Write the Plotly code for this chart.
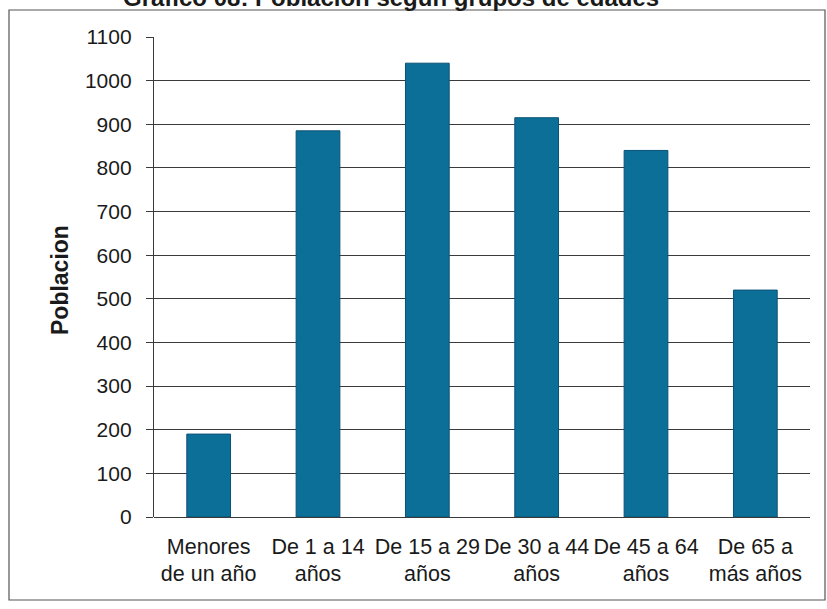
import plotly.graph_objects as go

categories = ["Menores<br>de un año", "De 1 a 14<br>años", "De 15 a 29<br>años",
              "De 30 a 44<br>años", "De 45 a 64<br>años", "De 65 a<br>más años"]
poblacion = [190, 885, 1040, 915, 840, 520]
title_text = "Gráfico 08: Población según grupos de edades"
y_title = "Poblacion"

W, H = 827, 609
L, R, T, B = 154, 17, 37, 92
PW, PH = W - L - R, H - T - B

def px_x(px):
    return (px - L) / PW

def px_y(py):
    return (H - B - py) / PH

FONT = "Liberation Sans, Arial, sans-serif"

fig = go.Figure(go.Bar(
    x=categories, y=poblacion, width=0.4,
    marker=dict(color="#0c6f97", line=dict(color="#0a5277", width=1)),
))

fig.update_layout(
    width=W, height=H,
    margin=dict(l=L, r=R, t=T, b=B),
    paper_bgcolor="white", plot_bgcolor="white",
    showlegend=False,
    font=dict(family=FONT, size=20, color="#1a1a1a"),
    bargap=0.6,
)
fig.update_xaxes(
    showgrid=False, showline=False, ticks="",
    tickfont=dict(size=21.5), ticklabelstandoff=14,
)
fig.update_yaxes(
    range=[0, 1100], dtick=100, showgrid=True, gridcolor="#3a3a3a", gridwidth=1.3,
    showline=True, linecolor="#3a3a3a", linewidth=1.3,
    ticks="outside", ticklen=7, tickcolor="#3a3a3a", tickwidth=1.3,
    tickfont=dict(size=21), ticklabelstandoff=10,
    zeroline=True, zerolinecolor="#3a3a3a", zerolinewidth=1.3,
)

fig.add_annotation(
    text="<b>" + y_title + "</b>", textangle=-90,
    xref="paper", yref="paper", x=px_x(60), y=px_y(280),
    showarrow=False, font=dict(size=23, family=FONT, color="#1a1a1a"),
    xanchor="center", yanchor="middle",
)
fig.add_annotation(
    text="<b>" + title_text + "</b>",
    xref="paper", yref="paper", x=px_x(391), y=px_y(-3),
    showarrow=False, font=dict(size=24, family=FONT, color="#1a1a1a"),
    xanchor="center", yanchor="middle",
)
# outer frame
fig.add_shape(type="rect", xref="paper", yref="paper",
              x0=px_x(9), x1=px_x(825), y0=px_y(600), y1=px_y(10),
              line=dict(color="#555555", width=1.2), layer="below")

fig.write_html("out.html", config={"displayModeBar": False},
               post_script="document.body.style.margin='0';")
